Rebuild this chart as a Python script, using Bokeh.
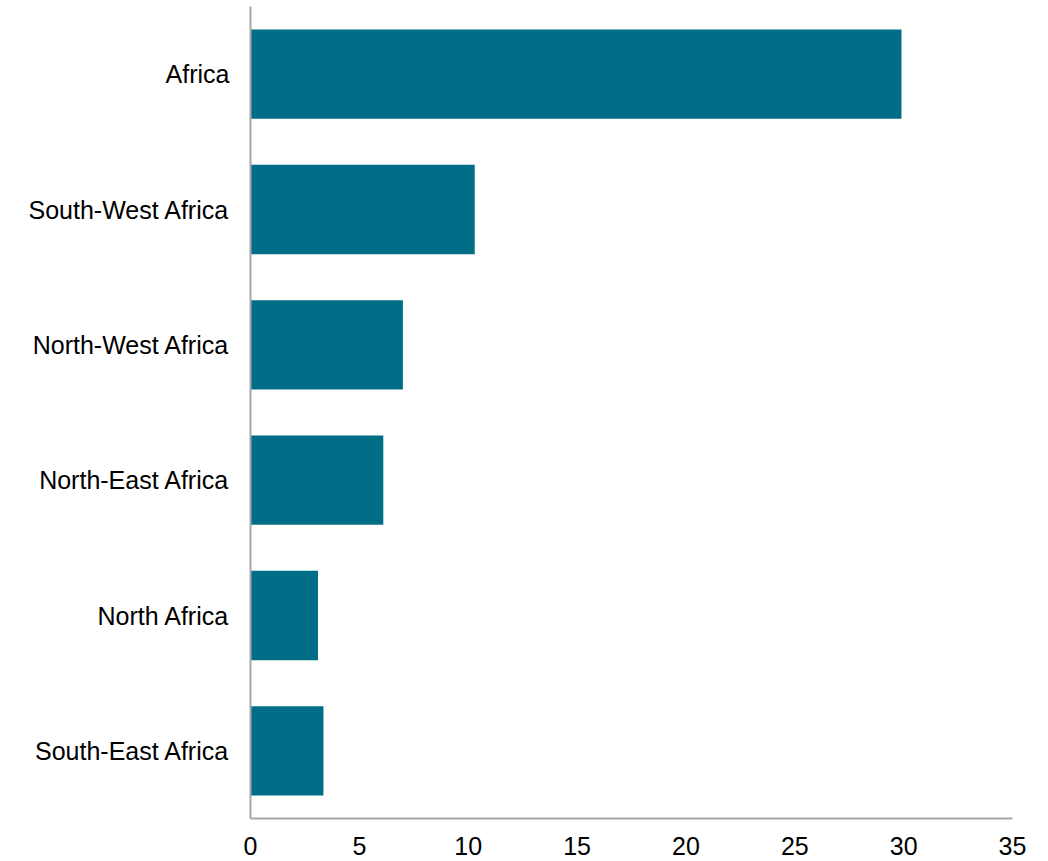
from bokeh.plotting import figure
from bokeh.models import FactorRange, Range1d, ColumnDataSource, FixedTicker
from bokeh.embed import file_html
from bokeh.resources import INLINE

regions = ["Africa", "South-West Africa", "North-West Africa", "North-East Africa", "North Africa", "South-East Africa"]
values = [29.9, 10.3, 7.0, 6.1, 3.1, 3.35]
ticks = [0, 5, 10, 15, 20, 25, 30, 35]

src = ColumnDataSource(dict(region=regions, value=values))

p = figure(width=1048, height=861, output_backend="svg", toolbar_location=None,
           y_range=FactorRange(factors=list(reversed(regions)), range_padding=0),
           x_range=Range1d(0, 35),
           min_border_left=250, min_border_right=36, min_border_top=6, min_border_bottom=43)
p.hbar(y="region", right="value", left=0, height=0.66, source=src,
       fill_color="#006E87", line_color=None)

p.outline_line_color = None
p.xgrid.visible = False
p.ygrid.visible = False
p.background_fill_color = "white"
p.border_fill_color = "white"

for ax in (p.xaxis, p.yaxis):
    ax.axis_line_color = "#A6A6A6"
    ax.axis_line_width = 2
    ax.major_tick_line_color = None
    ax.minor_tick_line_color = None
    ax.major_label_text_font = "Liberation Sans"
    ax.major_label_text_font_size = "25px"
    ax.major_label_text_color = "#000000"

p.xaxis.ticker = FixedTicker(ticks=ticks)
p.xaxis.major_label_standoff = 12
p.yaxis.major_label_standoff = 15

open("out.html", "w").write(file_html(p, INLINE))
